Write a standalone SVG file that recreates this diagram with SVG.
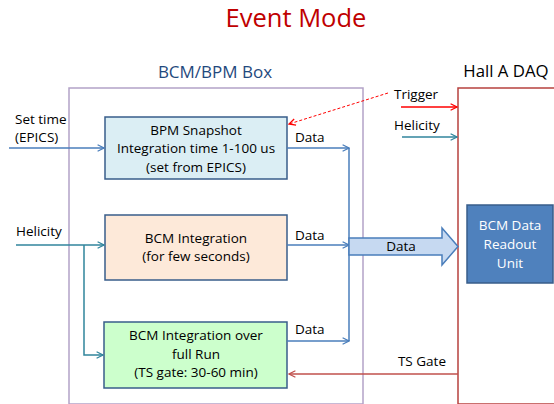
<svg xmlns="http://www.w3.org/2000/svg" width="554" height="404" viewBox="0 0 554 404">
<defs>
<style>
text{font-family:"Open Sans","Liberation Sans",sans-serif;font-size:13.5px;fill:#000}
.c{text-anchor:middle}
.box{stroke:#385D8A;stroke-width:1.5}
.blue{stroke:#4A7EBB;stroke-width:1.5;fill:none}
.teal{stroke:#31859C;stroke-width:1.5;fill:none}
</style>
<marker id="ab" viewBox="0 0 10 10" refX="9" refY="5" markerWidth="8" markerHeight="8" markerUnits="userSpaceOnUse" orient="auto"><path d="M1,1 L9,5 L1,9" fill="none" stroke="#4A7EBB" stroke-width="1.6"/></marker>
<marker id="at" viewBox="0 0 10 10" refX="9" refY="5" markerWidth="8" markerHeight="8" markerUnits="userSpaceOnUse" orient="auto"><path d="M1,1 L9,5 L1,9" fill="none" stroke="#31859C" stroke-width="1.6"/></marker>
<marker id="ar" viewBox="0 0 10 10" refX="9" refY="5" markerWidth="8" markerHeight="8" markerUnits="userSpaceOnUse" orient="auto"><path d="M1,1 L9,5 L1,9" fill="none" stroke="#FF0000" stroke-width="1.6"/></marker>
<marker id="ag" viewBox="0 0 10 10" refX="9" refY="5" markerWidth="8" markerHeight="8" markerUnits="userSpaceOnUse" orient="auto"><path d="M1,1 L9,5 L1,9" fill="none" stroke="#C0504D" stroke-width="1.6"/></marker>
</defs>
<rect width="554" height="404" fill="#fff"/>
<text x="296" y="27" class="c" style="font-size:25.5px;fill:#C00000">Event Mode</text>

<g id="bcmbpm-box">
<rect x="69" y="88" width="294" height="316" fill="none" stroke="#B3A2C7" stroke-width="1.5"/>
<text x="215" y="78" class="c" style="font-size:17px;fill:#1F497D">BCM/BPM Box</text>
</g>
<g id="halla-daq">
<rect x="458" y="88" width="110" height="316" fill="none" stroke="#B7413E" stroke-width="1.5"/>
<text x="506" y="77" class="c" style="font-size:16.8px">Hall A DAQ</text>
</g>

<g id="bpm-snapshot">
<rect x="105" y="117" width="182" height="62" fill="#DBEEF4" class="box"/>
<text x="196" y="135" class="c">BPM Snapshot</text>
<text x="196" y="153" class="c">Integration time 1-100 us</text>
<text x="196" y="172" class="c">(set from EPICS)</text>
</g>
<g id="bcm-integration">
<rect x="105" y="215" width="182" height="65" fill="#FDE9D9" class="box"/>
<text x="196" y="243" class="c">BCM Integration</text>
<text x="196" y="261" class="c">(for few seconds)</text>
</g>
<g id="bcm-full-run">
<rect x="104" y="322" width="183" height="66" fill="#CCFFCC" class="box"/>
<text x="196" y="340" class="c">BCM Integration over</text>
<text x="196" y="359" class="c">full Run</text>
<text x="196" y="377" class="c">(TS gate: 30-60 min)</text>
</g>
<g id="readout-unit">
<rect x="467" y="205" width="86" height="78" fill="#4F81BD" stroke="#385D8A" stroke-width="1.5"/>
<text x="510" y="230" class="c" style="fill:#fff">BCM Data</text>
<text x="510" y="249" class="c" style="fill:#fff">Readout</text>
<text x="510" y="268" class="c" style="fill:#fff">Unit</text>
</g>

<g id="connectors">
<path d="M9,148 H104" class="blue" marker-end="url(#ab)"/>
<text x="15" y="124">Set time</text>
<text x="15" y="142">(EPICS)</text>

<path d="M16,245 H104" class="teal" marker-end="url(#at)"/>
<path d="M84,245 V355 H103" class="teal" marker-end="url(#at)"/>
<text x="16" y="236">Helicity</text>

<path d="M287,148 H349" class="blue" marker-end="url(#ab)"/>
<path d="M287,245 H349" class="blue" marker-end="url(#ab)"/>
<path d="M287,341 H349" class="blue" marker-end="url(#ab)"/>
<path d="M349,148 V341" class="blue"/>
<text x="295" y="142">Data</text>
<text x="295" y="240">Data</text>
<text x="295" y="334">Data</text>

<path d="M349,238 H442 V228 L458,246.5 L442,265 V255 H349 Z" fill="#C6D9F1" stroke="#4A7EBB" stroke-width="1.5"/>
<text x="401" y="251" class="c">Data</text>

<path d="M388,93 L289,124" stroke="#FF0000" stroke-width="1" stroke-dasharray="3,2" fill="none" marker-end="url(#ar)"/>
<path d="M401,107 H457" stroke="#FF0000" stroke-width="1.5" fill="none" marker-end="url(#ar)"/>
<text x="394" y="99">Trigger</text>
<path d="M402,137 H457" class="teal" marker-end="url(#at)"/>
<text x="394" y="130">Helicity</text>

<path d="M458,374 H289" stroke="#C0504D" stroke-width="1.5" fill="none" marker-end="url(#ag)"/>
<text x="446" y="366" style="text-anchor:end">TS Gate</text>
</g>
</svg>
